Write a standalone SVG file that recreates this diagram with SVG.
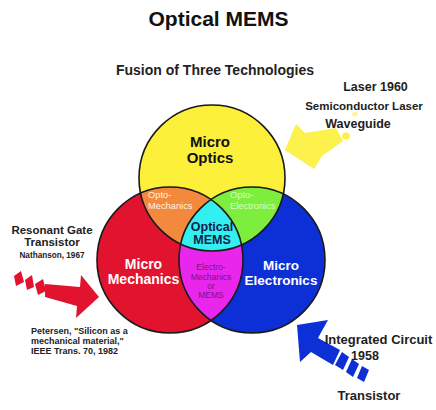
<svg xmlns="http://www.w3.org/2000/svg" width="436" height="410" viewBox="0 0 436 410">
<style>
.b{font-family:"Liberation Sans",Arial,sans-serif;font-weight:bold}
.r{font-family:"Liberation Sans",Arial,sans-serif}
.c{text-anchor:middle}
.ol{fill:none;stroke:#1a1a1a;stroke-width:1.6}
</style>
<defs>
<clipPath id="cy"><circle cx="212" cy="178" r="73"/></clipPath>
<clipPath id="cr"><circle cx="170" cy="260" r="73"/></clipPath>
<clipPath id="cb"><circle cx="252" cy="260" r="73"/></clipPath>
</defs>
<rect width="436" height="410" fill="#ffffff"/>
<text class="b c" x="218.5" y="26" font-size="21" fill="#111">Optical MEMS</text>
<text class="b c" x="215" y="75" font-size="14" fill="#222">Fusion of Three Technologies</text>

<g id="micro-optics">
<circle cx="212" cy="178" r="73" fill="#fcf03a"/>
<text class="b c" font-size="15" fill="#111"><tspan x="210" y="147">Micro</tspan><tspan x="210" y="163">Optics</tspan></text>
</g>
<g id="micro-mechanics">
<circle cx="170" cy="260" r="73" fill="#e2132f"/>
</g>
<g id="micro-electronics">
<circle cx="252" cy="260" r="73" fill="#0d2fd6"/>
</g>
<g id="opto-mechanics">
<circle cx="170" cy="260" r="73" fill="#f2893c" clip-path="url(#cy)"/>
</g>
<g id="opto-electronics">
<circle cx="252" cy="260" r="73" fill="#7eee3e" clip-path="url(#cy)"/>
</g>
<g id="electro-mechanics">
<circle cx="252" cy="260" r="73" fill="#e826ec" clip-path="url(#cr)"/>
</g>
<g id="optical-mems">
<g clip-path="url(#cy)"><circle cx="252" cy="260" r="73" fill="#34efef" clip-path="url(#cr)"/></g>
</g>
<g id="outlines">
<circle class="ol" cx="212" cy="178" r="73"/>
<circle class="ol" cx="170" cy="260" r="73"/>
<circle class="ol" cx="252" cy="260" r="73"/>
</g>
<g id="labels">
<text class="b c" font-size="14" fill="#fff"><tspan x="143.5" y="269">Micro</tspan><tspan x="143.5" y="284">Mechanics</tspan></text>
<text class="b c" font-size="13.5" fill="#fff"><tspan x="281" y="270">Micro</tspan><tspan x="281" y="285">Electronics</tspan></text>
<text class="r" font-size="9.3" fill="#fff4e8"><tspan x="148" y="198">Opto-</tspan><tspan x="148" y="209">Mechanics</tspan></text>
<text class="r" font-size="9.3" fill="#d8ffc4"><tspan x="230" y="198">Opto-</tspan><tspan x="230" y="209">Electronics</tspan></text>
<text class="b c" font-size="12.5" fill="#13224a"><tspan x="212" y="231">Optical</tspan><tspan x="212" y="244">MEMS</tspan></text>
<text class="r c" font-size="8.5" fill="#7a1588"><tspan x="211" y="270">Electro-</tspan><tspan x="211" y="280">Mechanics</tspan><tspan x="211" y="289">or</tspan><tspan x="211" y="298">MEMS</tspan></text>
</g>

<g id="connectors">
<g fill="#fcf03a" opacity="0.9">
<polygon points="285,150 296,124 305,133 336,128 343,141 322,156 314,169"/>
<ellipse cx="346" cy="136" rx="4" ry="3.5"/>
<ellipse cx="355" cy="114" rx="3" ry="2.5" opacity="0.6"/>
</g>
<g fill="#e2132f">
<polygon points="45,284 80,287 81,275 99,297 76,318 77,306 45,297"/>
<polygon points="14,276 21,271 24,282 16,286"/>
<polygon points="25,280 32,275 34,287 27,290"/>
<polygon points="35,284 43,279 46,291 38,295"/>
</g>
<g fill="#0d2fd6">
<polygon points="297,325 328,320 318,338 340,350 333,365 311,352 300,362"/>
<polygon points="342,352 349,357 343,370 335,365"/>
<polygon points="352,359 359,364 353,377 346,372"/>
<polygon points="362,366 369,370 364,382 357,378"/>
</g>
</g>

<g id="notes">
<text class="b c" x="375.5" y="91" font-size="12.5" fill="#222">Laser 1960</text>
<text class="b c" x="364" y="110" font-size="11.5" fill="#222">Semiconductor Laser</text>
<text class="b c" x="358" y="128" font-size="12.5" fill="#222">Waveguide</text>
<text class="b c" font-size="11.5" fill="#222"><tspan x="52" y="234">Resonant Gate</tspan><tspan x="52" y="246">Transistor</tspan></text>
<text class="b c" x="52" y="258" font-size="8.2" fill="#222">Nathanson, 1967</text>
<text class="b" font-size="9" fill="#222"><tspan x="31" y="334">Petersen, "Silicon as a</tspan><tspan x="31" y="344">mechanical material,"</tspan><tspan x="31" y="354">IEEE Trans. 70, 1982</tspan></text>
<text class="b c" x="378.5" y="344" font-size="13" fill="#222">Integrated Circuit</text>
<text class="b c" x="365" y="360" font-size="12.5" fill="#222">1958</text>
<text class="b c" x="369" y="400" font-size="13" fill="#222">Transistor</text>
</g>
</svg>
